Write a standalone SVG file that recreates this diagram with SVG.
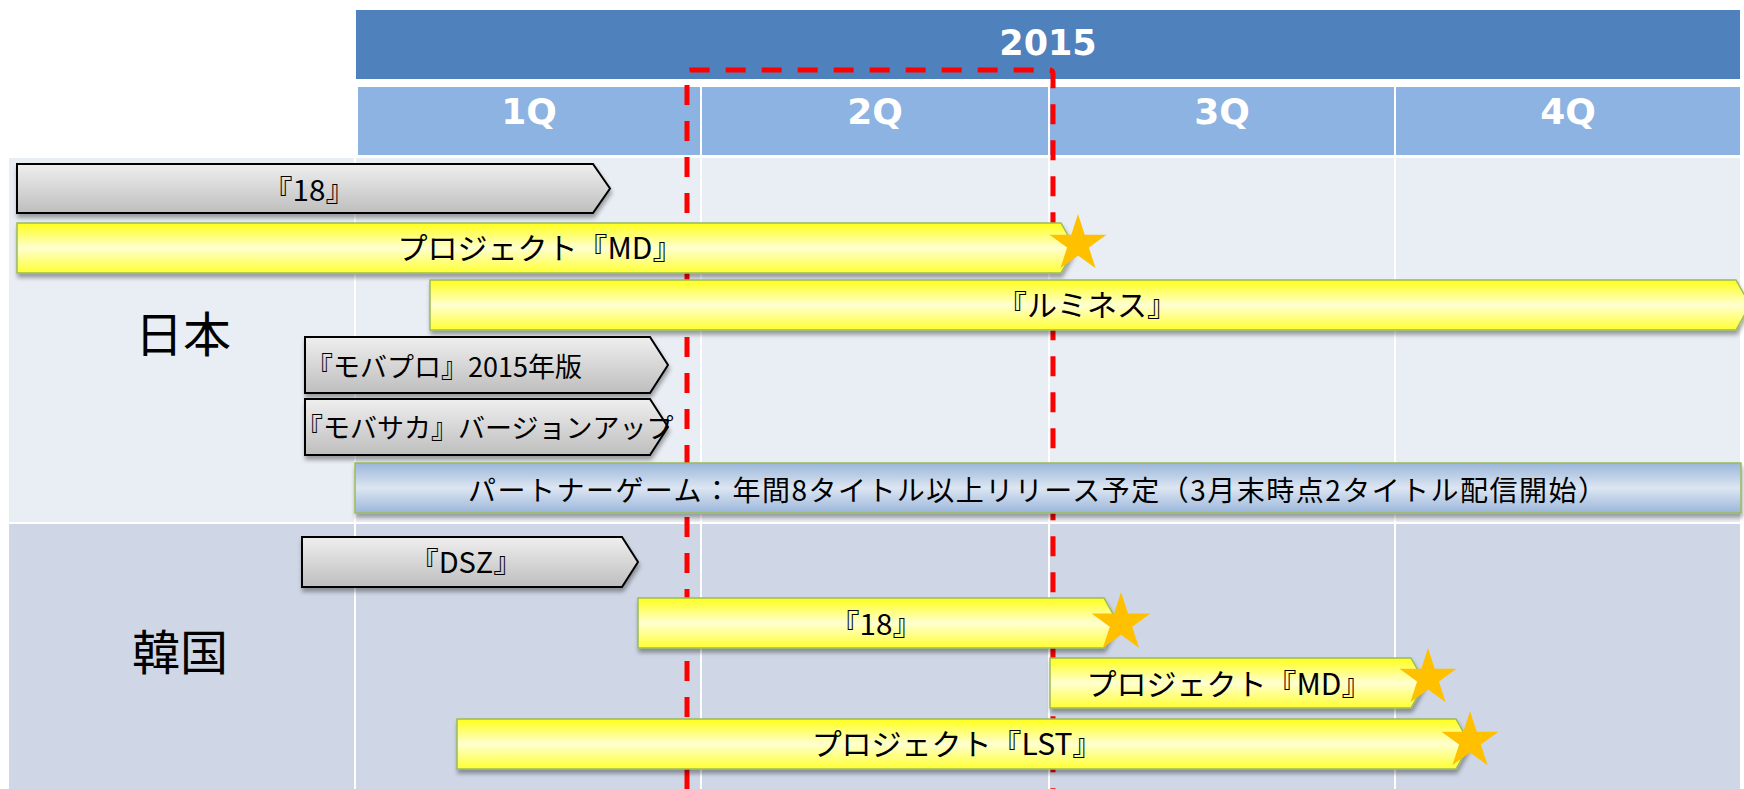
<svg xmlns="http://www.w3.org/2000/svg" width="1744" height="789" viewBox="0 0 1744 789">
<defs>
<style>
.hdr{font-family:"DejaVu Sans","Verdana",sans-serif;font-weight:bold;fill:#FFFFFF;text-anchor:middle}
.lbl{font-family:"Noto Sans CJK JP","Noto Sans",sans-serif;font-size:30px;fill:#000000}
.lbl.s27{font-size:27px}
.lbl.s28{font-size:28px}
.lbl.s29{font-size:29px}
.mid{text-anchor:middle}
.region{font-family:"Noto Sans CJK JP","Noto Sans",sans-serif;font-size:48px;fill:#000000;text-anchor:middle}
.gray{fill:url(#gGray);stroke:#000000;stroke-width:2;filter:url(#sh)}
.yel{fill:url(#gYel);stroke:#9BBB59;stroke-width:1.5;filter:url(#sh)}
.blue{fill:url(#gBlue);stroke:#9BBB59;stroke-width:1.5;filter:url(#sh)}
.star{fill:#FFC000}
.grid{stroke:#FFFFFF;stroke-width:2}
</style>
<linearGradient id="gGray" x1="0" y1="0" x2="0" y2="1">
<stop offset="0" stop-color="#EFEFEF"/><stop offset="1" stop-color="#BEBEBE"/>
</linearGradient>
<linearGradient id="gYel" x1="0" y1="0" x2="0" y2="1">
<stop offset="0" stop-color="#FFFF1A"/><stop offset="0.5" stop-color="#FFFFD0"/><stop offset="1" stop-color="#FFFF33"/>
</linearGradient>
<linearGradient id="gBlue" x1="0" y1="0" x2="0" y2="1">
<stop offset="0" stop-color="#9AB6DA"/><stop offset="0.5" stop-color="#DDE6F2"/><stop offset="1" stop-color="#9AB6DA"/>
</linearGradient>
<filter id="sh" x="-5%" y="-20%" width="110%" height="150%">
<feDropShadow dx="1" dy="4" stdDeviation="2" flood-color="#000000" flood-opacity="0.35"/>
</filter>
<polygon id="star" points="0,-30 6.74,-9.27 28.53,-9.27 10.9,3.54 17.63,24.27 0,11.46 -17.63,24.27 -10.9,3.54 -28.53,-9.27 -6.74,-9.27"/>
</defs>
<rect width="1744" height="789" fill="#FFFFFF"/>
<g id="background">
<rect x="9" y="158" width="1731" height="364" fill="#E9EDF4"/>
<rect x="9" y="524" width="1731" height="265" fill="#CFD7E6"/>
<line class="grid" x1="355" y1="158" x2="355" y2="789"/>
<line class="grid" x1="701" y1="158" x2="701" y2="789"/>
<line class="grid" x1="1049" y1="158" x2="1049" y2="789"/>
<line class="grid" x1="1395" y1="158" x2="1395" y2="789"/>
</g>
<g id="header">
<rect x="356" y="10" width="1384" height="69" fill="#4F81BD"/>
<text class="hdr" x="1048" y="55" font-size="35">2015</text>
</g>
<g id="quarters">
<rect x="358" y="87" width="342" height="68" fill="#8DB3E2"/>
<rect x="702" y="87" width="346" height="68" fill="#8DB3E2"/>
<rect x="1050" y="87" width="344" height="68" fill="#8DB3E2"/>
<rect x="1396" y="87" width="344" height="68" fill="#8DB3E2"/>
<text class="hdr" x="529" y="124" font-size="36">1Q</text>
<text class="hdr" x="875" y="124" font-size="36">2Q</text>
<text class="hdr" x="1222" y="124" font-size="36">3Q</text>
<text class="hdr" x="1568" y="124" font-size="36">4Q</text>
</g>
<g id="connectors">
<path d="M687,789 L687,74 Q687,70 691,70 L1049,70 Q1053,70 1053,74 L1053,789" fill="none" stroke="#FF0000" stroke-width="5" stroke-dasharray="20 16"/>
</g>
<g id="region-japan"><text class="region" x="183" y="352">日本</text></g>
<g id="region-korea"><text class="region" x="180" y="670">韓国</text></g>
<g id="jp-18">
<path class="gray" d="M17,164 L593,164 L610,188.5 L593,213 L17,213 Z"/>
<text class="lbl s28 mid" x="309" y="201" textLength="92" lengthAdjust="spacingAndGlyphs">『18』</text>
</g>
<g id="jp-md">
<path class="yel" d="M17,223 L1061,223 L1075,248 L1061,273 L17,273 Z"/>
<text class="lbl mid" x="540" y="259">プロジェクト『MD』</text>
<use href="#star" class="star" transform="translate(1078,244)"/>
</g>
<g id="jp-lumines">
<path class="yel" d="M430,280 L1736,280 L1750,305 L1736,330 L430,330 Z"/>
<text class="lbl mid" x="1087" y="316">『ルミネス』</text>
</g>
<g id="jp-mobapro">
<path class="gray" d="M305,337 L650,337 L668,365 L650,393 L305,393 Z"/>
<text class="lbl s27" x="306" y="377">『モバプロ』2015年版</text>
</g>
<g id="jp-mobasaka">
<path class="gray" d="M305,399 L650,399 L668,427 L650,455 L305,455 Z"/>
<text class="lbl s27" x="296" y="438">『モバサカ』バージョンアップ</text>
</g>
<g id="jp-partner">
<rect class="blue" x="355" y="463" width="1386" height="50"/>
<text class="lbl s28" x="468" y="501" textLength="1138" lengthAdjust="spacing">パートナーゲーム：年間8タイトル以上リリース予定（3月末時点2タイトル配信開始）</text>
</g>
<g id="kr-dsz">
<path class="gray" d="M302,537 L622,537 L638,562 L622,587 L302,587 Z"/>
<text class="lbl s29 mid" x="466" y="573">『DSZ』</text>
</g>
<g id="kr-18">
<path class="yel" d="M638,598 L1104,598 L1118,623 L1104,648 L638,648 Z"/>
<text class="lbl s28 mid" x="876" y="635" textLength="92" lengthAdjust="spacingAndGlyphs">『18』</text>
<use href="#star" class="star" transform="translate(1121,623) scale(1.03)"/>
</g>
<g id="kr-md">
<path class="yel" d="M1050,658 L1411,658 L1425,683 L1411,708 L1050,708 Z"/>
<text class="lbl mid" x="1229" y="695">プロジェクト『MD』</text>
<use href="#star" class="star" transform="translate(1428,678)"/>
</g>
<g id="kr-lst">
<path class="yel" d="M457,719 L1456,719 L1470,744 L1456,769 L457,769 Z"/>
<text class="lbl mid" x="957" y="755">プロジェクト『LST』</text>
<use href="#star" class="star" transform="translate(1470,741)"/>
</g>
</svg>
